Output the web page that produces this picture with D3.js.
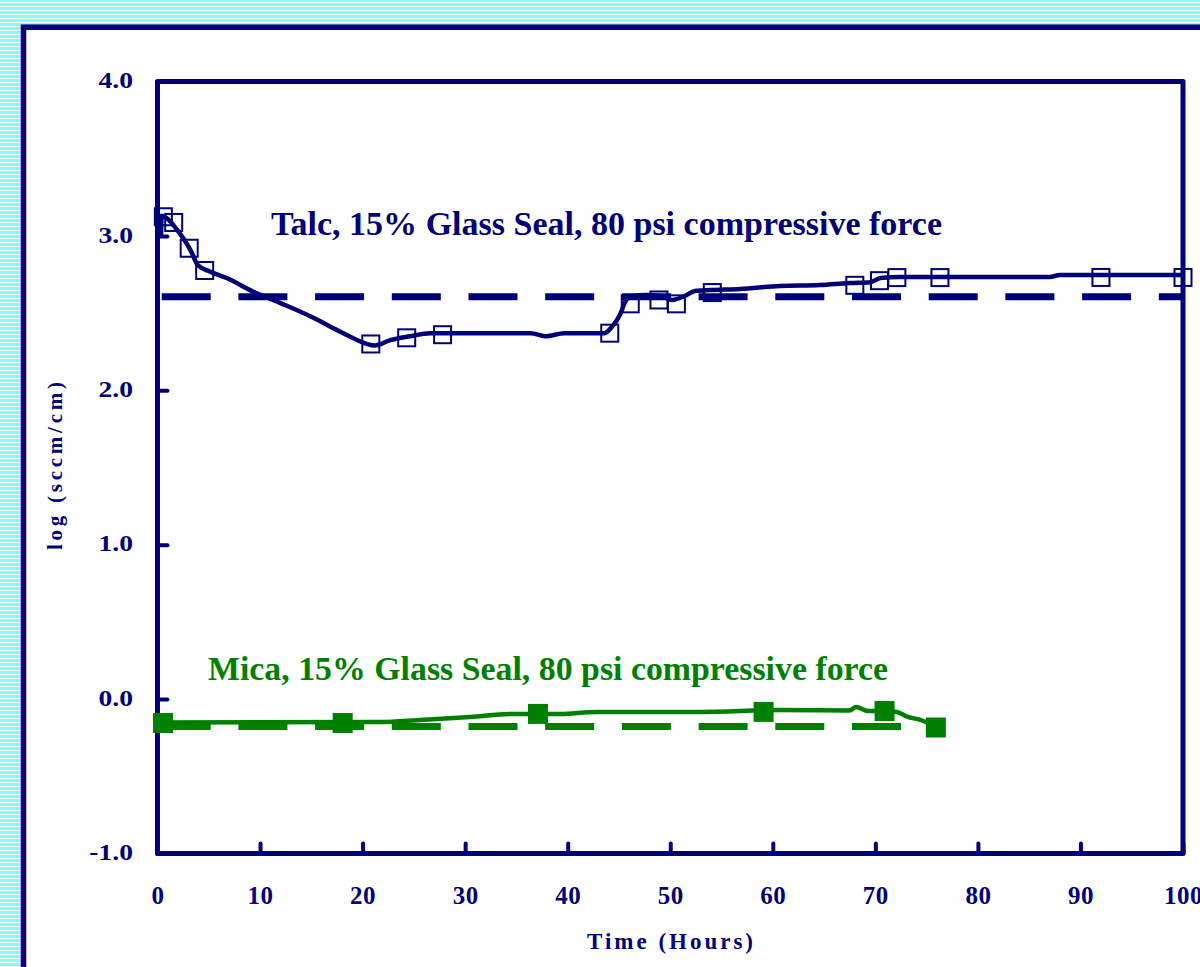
<!DOCTYPE html>
<html>
<head>
<meta charset="utf-8">
<script src="https://cdn.jsdelivr.net/npm/d3@7"></script>
<style>
  html, body { margin: 0; padding: 0; background: #fff; overflow: hidden; }
  svg { display: block; }
  text { font-family: "Liberation Serif", "Times New Roman", serif; font-weight: bold; }
</style>
</head>
<body>
<svg id="chart" width="1200" height="967"></svg>
<script>
// ---- Axis definitions ----
const xDomain = [0, 100];
const yDomain = [-1, 4];
const xTicks = [0, 10, 20, 30, 40, 50, 60, 70, 80, 90, 100];
const xTickLabels = ["0", "10", "20", "30", "40", "50", "60", "70", "80", "90", "100"];
const yTicks = [-1, 0, 1, 2, 3, 4];
const yTickLabels = ["-1.0", "0.0", "1.0", "2.0", "3.0", "4.0"];
const xTitle = "Time (Hours)";
const yTitle = "log (sccm/cm)";

// ---- Talc seal: measured leak rate trace ----
const talcLineHours = [0.35, 0.4, 1.0, 1.9, 3.2, 3.95, 5.1, 6.75, 9.3, 12.0, 15.2, 17.5, 19.0, 21.2, 22.7,
  24.6, 26.6, 36.4, 37.8, 39.7, 43.6, 44.3, 45.1, 45.7, 46.3, 47.6, 49.1, 50.2, 51.4, 52.4, 53.9,
  56.8, 60.7, 64.6, 67.5, 69.5, 70.5, 72.4, 87.0, 88.0, 100];
const talcLineValues = [3.00, 3.13, 3.11, 3.04, 2.91, 2.81, 2.77, 2.727, 2.64, 2.565, 2.47, 2.39, 2.34, 2.29, 2.325,
  2.35, 2.37, 2.37, 2.35, 2.37, 2.37, 2.41, 2.49, 2.585, 2.61, 2.617, 2.61, 2.585, 2.61, 2.643, 2.649,
  2.656, 2.676, 2.682, 2.695, 2.70, 2.727, 2.734, 2.734, 2.747, 2.747];
// Talc sampled readings (open squares)
const talcMarkerHours = [0.57, 1.58, 3.09, 4.6, 20.8, 24.3, 27.8, 44.1, 46.1, 48.9, 50.6, 54.1, 68.0, 70.4, 72.1, 76.3, 92.0, 100];
const talcMarkerValues = [3.124, 3.087, 2.92, 2.776, 2.30, 2.34, 2.36, 2.37, 2.56, 2.585, 2.56, 2.633, 2.68, 2.71, 2.73, 2.73, 2.731, 2.731];
// Talc average level (dashed)
const talcMeanHours = [0, 100];
const talcMeanValue = 2.606;

// ---- Mica seal: measured leak rate trace ----
const micaLineHours = [0, 21.7, 25.6, 30.5, 34.4, 39.3, 42.7, 52.9, 60.7, 67.5, 68.1, 69.3, 70.9, 72.1, 73.1, 74.4, 75.9];
const micaLineValues = [-0.152, -0.148, -0.135, -0.116, -0.097, -0.097, -0.083, -0.083, -0.071, -0.074, -0.051, -0.077, -0.077, -0.083, -0.114, -0.135, -0.181];
// Mica sampled readings (filled squares)
const micaMarkerHours = [0.54, 18.06, 37.1, 59.1, 70.9, 75.9];
const micaMarkerValues = [-0.155, -0.155, -0.096, -0.083, -0.077, -0.184];
// Mica average level (dashed)
const micaMeanHours = [0, 74];
const micaMeanValue = -0.177;

const talcLabel = "Talc, 15% Glass Seal, 80 psi compressive force";
const micaLabel = "Mica, 15% Glass Seal, 80 psi compressive force";

// ---- Styling ----
const NAVY = "#000078";
const GREEN = "#008000";

const svg = d3.select("#chart");

// Striped backdrop
const defs = svg.append("defs");
const pat = defs.append("pattern")
  .attr("id", "stripes").attr("patternUnits", "userSpaceOnUse")
  .attr("width", 8).attr("height", 4);
pat.append("rect").attr("width", 8).attr("height", 4).attr("fill", "#80ffff");
pat.append("rect").attr("y", 2).attr("width", 8).attr("height", 1).attr("fill", "#ffffff");
svg.append("rect").attr("width", 1200).attr("height", 967).attr("fill", "url(#stripes)");

// White panel with dark border
svg.append("rect")
  .attr("x", 23.5).attr("y", 27.2).attr("width", 1400).attr("height", 1200)
  .attr("fill", "#fff").attr("stroke", NAVY).attr("stroke-width", 5.5);

// ---- Scales ----
const plot = { left: 157.5, right: 1183, top: 81.5, bottom: 853.5 };
const x = d3.scaleLinear().domain(xDomain).range([plot.left, plot.right]);
const y = d3.scaleLinear().domain(yDomain).range([plot.bottom, plot.top]);

// Axes: ticks point inward
const xAxis = d3.axisBottom(x)
  .tickValues(xTicks)
  .tickSizeInner(-10).tickSizeOuter(0)
  .tickFormat((d, i) => xTickLabels[i]);
const gx = svg.append("g").attr("transform", `translate(0,${plot.bottom})`).call(xAxis);
gx.select(".domain").remove();
gx.selectAll(".tick line")
  .attr("stroke", NAVY).attr("stroke-width", 4).attr("stroke-linecap", "round");
gx.selectAll(".tick text")
  .attr("y", 50).attr("dy", null)
  .attr("fill", NAVY).attr("font-size", 25).attr("font-family", null)
  .style("letter-spacing", "0.5px");

const yAxis = d3.axisLeft(y)
  .tickValues(yTicks)
  .tickSizeInner(-10).tickSizeOuter(0)
  .tickFormat((d, i) => yTickLabels[i]);
const gy = svg.append("g").attr("transform", `translate(${plot.left},0)`).call(yAxis);
gy.select(".domain").remove();
gy.selectAll(".tick line")
  .attr("stroke", NAVY).attr("stroke-width", 4).attr("stroke-linecap", "round");
gy.selectAll(".tick text")
  .attr("x", 0).attr("dy", "0.32em")
  .attr("transform", "translate(-24.5,-1.5) scale(1.15,1)")
  .attr("text-anchor", "end")
  .attr("fill", NAVY).attr("font-size", 24).attr("font-family", null);

// Plot frame
svg.append("rect")
  .attr("x", x(xDomain[0])).attr("y", y(yDomain[1]))
  .attr("width", x(xDomain[1]) - x(xDomain[0]))
  .attr("height", y(yDomain[0]) - y(yDomain[1]))
  .attr("fill", "none").attr("stroke", NAVY).attr("stroke-width", 5)
  .attr("stroke-linejoin", "round");

// Axis titles
svg.append("text")
  .attr("x", 587).attr("y", 949)
  .attr("textLength", 166).attr("lengthAdjust", "spacing")
  .attr("font-size", 23).attr("fill", NAVY)
  .text(xTitle);
svg.append("text")
  .attr("transform", "translate(61.5,550) rotate(-90)")
  .attr("textLength", 168).attr("lengthAdjust", "spacing")
  .attr("font-size", 21).attr("fill", NAVY)
  .text(yTitle);

// ---- Series ----
const line = d3.line().x(d => x(d[0])).y(d => y(d[1]));
const smooth = d3.line().curve(d3.curveMonotoneX).x(d => x(d[0])).y(d => y(d[1]));

const dash = "49,27.7";
const dashOffset = 72.5;

// Average levels (dashed)
svg.append("path")
  .datum(talcMeanHours.map(h => [h, talcMeanValue]))
  .attr("d", line).attr("fill", "none")
  .attr("stroke", NAVY).attr("stroke-width", 7)
  .attr("stroke-dasharray", dash).attr("stroke-dashoffset", dashOffset);
svg.append("path")
  .datum(micaMeanHours.map(h => [h, micaMeanValue]))
  .attr("d", line).attr("fill", "none")
  .attr("stroke", GREEN).attr("stroke-width", 7)
  .attr("stroke-dasharray", dash).attr("stroke-dashoffset", dashOffset);

// Talc trace
svg.append("path")
  .datum(talcLineHours.map((h, i) => [h, talcLineValues[i]]))
  .attr("d", smooth).attr("fill", "none")
  .attr("stroke", NAVY).attr("stroke-width", 4.5)
  .attr("stroke-linejoin", "round").attr("stroke-linecap", "round");

const talcSize = 17;
svg.append("g").selectAll("rect")
  .data(talcMarkerHours.map((h, i) => [h, talcMarkerValues[i]]))
  .join("rect")
  .attr("x", d => x(d[0]) - talcSize / 2)
  .attr("y", d => y(d[1]) - talcSize / 2)
  .attr("width", talcSize).attr("height", talcSize)
  .attr("fill", "none").attr("stroke", NAVY).attr("stroke-width", 2);

// Mica trace
svg.append("path")
  .datum(micaLineHours.map((h, i) => [h, micaLineValues[i]]))
  .attr("d", smooth).attr("fill", "none")
  .attr("stroke", GREEN).attr("stroke-width", 4.5)
  .attr("stroke-linejoin", "round").attr("stroke-linecap", "round");

const micaSize = 20;
svg.append("g").selectAll("rect")
  .data(micaMarkerHours.map((h, i) => [h, micaMarkerValues[i]]))
  .join("rect")
  .attr("x", d => x(d[0]) - micaSize / 2)
  .attr("y", d => y(d[1]) - micaSize / 2)
  .attr("width", micaSize).attr("height", micaSize)
  .attr("fill", GREEN);

// Series labels
svg.append("text")
  .attr("x", 271).attr("y", 235)
  .attr("textLength", 671).attr("lengthAdjust", "spacingAndGlyphs")
  .attr("font-size", 34).attr("fill", NAVY)
  .text(talcLabel);
svg.append("text")
  .attr("x", 208).attr("y", 680)
  .attr("textLength", 680).attr("lengthAdjust", "spacingAndGlyphs")
  .attr("font-size", 34).attr("fill", GREEN)
  .text(micaLabel);
</script>
</body>
</html>
